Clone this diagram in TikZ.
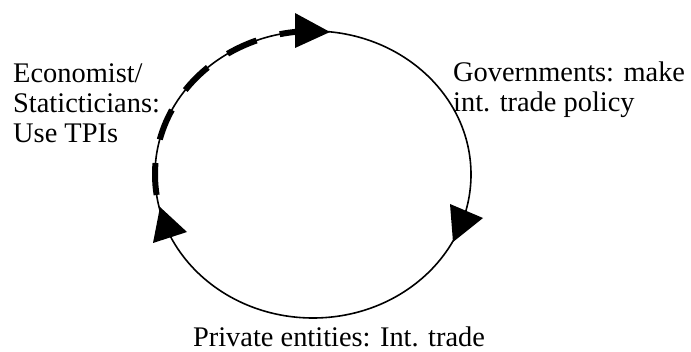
\documentclass[tikz,border=0pt]{standalone}
\usepackage{fontspec}
\setmainfont{Liberation Serif}
\usepackage{tikz}

\tikzset{
  cycle/.style={line width=1.6pt, black},
  flowdash/.style={line width=6pt, black, dash pattern=on 32pt off 24pt},
  head/.style={fill=black},
  role/.style={align=left, inner sep=0pt, font=\fontsize{28.4}{30}\selectfont}
}

\begin{document}
\begin{tikzpicture}[x=1pt, y=1pt]
\useasboundingbox (0,0) rectangle (691,351);

%%%  nodes

% centre of the cycle
\coordinate (c) at (313,176.5);

% role labels (base sits on the last line)
\node [role, anchor=base west] (econ) at (13,208) {Economist/\\Staticticians:\\Use TPIs};
\node [role, anchor=base west] (gov) at (453,239) {Governments: make\\int. trade policy};
\node [role, anchor=base] (priv) at (339,5) {Private entities: Int. trade};

%%% edges

% the cycle itself
\draw [cycle] (c) ellipse [x radius=158, y radius=143.5];

% statisticians -> governments (dashed leg)
\draw [flowdash] (c) ++(188.2:158 and 143.5)
  arc [start angle=188.2, end angle=92, x radius=158, y radius=143.5];

% arrow heads
\fill [head] (295,338) -- (330,319) -- (295,303) -- cycle;
\fill [head] (450,147) -- (483,133) -- (453,109) -- cycle;
\fill [head] (153,108) -- (160,144) -- (187,119) -- cycle;
\end{tikzpicture}
\end{document}
